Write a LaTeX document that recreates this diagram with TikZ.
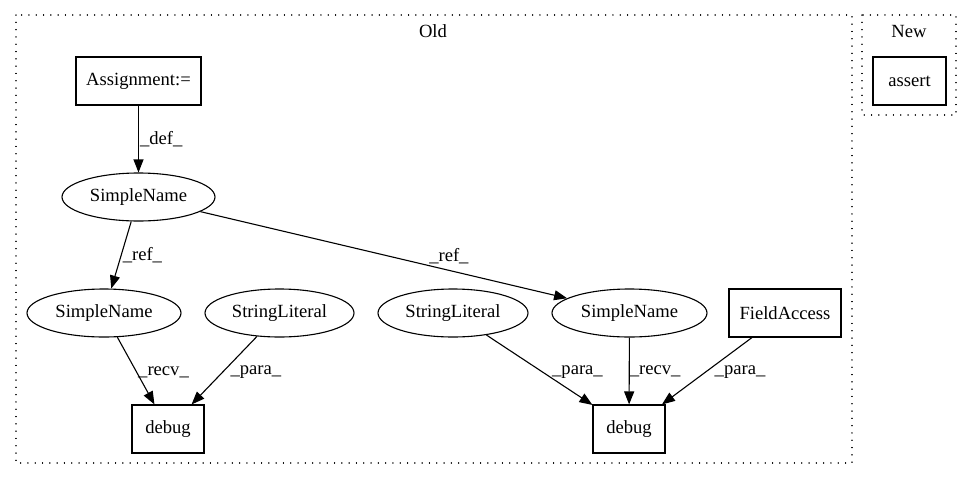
\documentclass[tikz,border=0pt]{standalone}
\usepackage{fontspec}
\setmainfont{Liberation Serif}
\usetikzlibrary{arrows.meta,shapes.geometric}

\begin{document}
\begin{tikzpicture}[x=1pt,y=-1pt,line width=1.1pt,
		font=\fontsize{18.6}{20}\selectfont,
		box/.style={draw,rectangle,inner sep=0pt,minimum height=48pt},
		oval/.style={draw,ellipse,inner sep=0pt,minimum height=48pt},
		cluster/.style={draw,line width=1.3pt,line cap=round,dash pattern=on 0.1pt off 7.2pt},
		lbl/.style={inner sep=1pt,anchor=west},
		edge/.style={-{Triangle[length=13pt,width=10pt]}}]
	\useasboundingbox (0,0) rectangle (972,480);

	% clusters
	\draw[cluster] (16,15) rectangle (852,463);
	\draw[cluster] (862,15) rectangle (956,115);
	\node (old) at (433,31) {Old};
	\node (new) at (909,31) {New};

	% nodes
	\node[box,minimum width=125pt] (assign) at (138.5,81) {Assignment:=};
	\node[oval,minimum width=153pt] (sn0) at (138.5,197) {SimpleName};
	\node[oval,minimum width=154pt] (sn1) at (104,313) {SimpleName};
	\node[oval,minimum width=149pt] (sl1) at (279.5,313) {StringLiteral};
	\node[oval,minimum width=150pt] (sl2) at (453,313) {StringLiteral};
	\node[oval,minimum width=155pt] (sn2) at (629.5,313) {SimpleName};
	\node[box,minimum width=112pt] (fa) at (785,313) {FieldAccess};
	\node[box,minimum width=72pt] (dbg1) at (168,429) {debug};
	\node[box,minimum width=72pt] (dbg2) at (629,429) {debug};
	\node[box,minimum width=73pt] (assert) at (909.5,81) {assert};

	% edges
	\draw[edge] (assign) -- (sn0) node[lbl,pos=0.5] {\_def\_};
	\draw[edge] (sn0) -- (sn1) node[lbl,pos=0.5] {\_ref\_};
	\draw[edge] (sn0) -- (sn2) node[lbl,pos=0.62,anchor=south west] {\_ref\_};
	\draw[edge] (sn1) -- (dbg1) node[lbl,pos=0.52] {\_recv\_};
	\draw[edge] (sl1) -- (dbg1) node[lbl,pos=0.52,xshift=6pt] {\_para\_};
	\draw[edge] (sl2) -- (dbg2) node[lbl,pos=0.53,xshift=8pt] {\_para\_};
	\draw[edge] (sn2) -- (dbg2) node[lbl,pos=0.51,inner sep=0pt] {\_recv\_};
	\draw[edge] (fa) -- (dbg2) node[lbl,pos=0.52,xshift=8pt] {\_para\_};
\end{tikzpicture}
\end{document}
